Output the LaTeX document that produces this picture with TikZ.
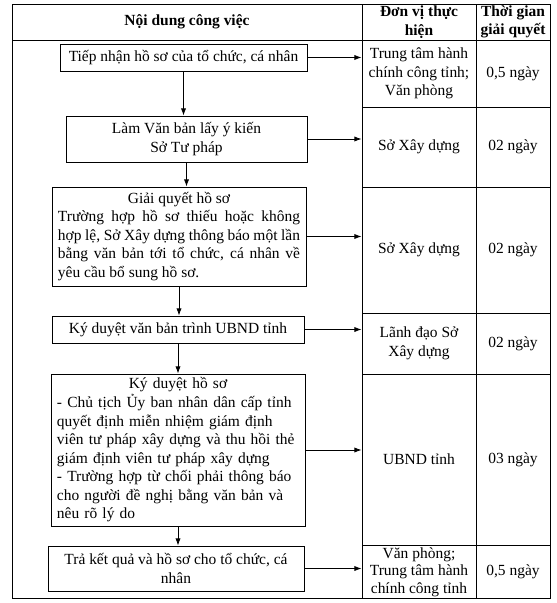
\documentclass[tikz,border=0pt]{standalone}
\usepackage{fontspec}
\setmainfont{Liberation Serif}
\usetikzlibrary{arrows.meta}
\setlength{\lineskiplimit}{-10pt}

\begin{document}
\begin{tikzpicture}[x=0.025cm, y=-0.025cm,
    every node/.style={font=\fontsize{11}{13.2}\selectfont},
    cell/.style={draw, line width=0.6pt, inner sep=0pt, align=center},
    head/.style={cell, minimum height=0.9cm, font=\fontsize{11}{13.2}\selectfont\bfseries},
    box/.style={draw, line width=0.6pt, inner xsep=0.15cm, inner ysep=0pt, align=center},
    flow/.style={line width=0.6pt, -{Latex[length=1.8mm, width=1.3mm]}}]
    \useasboundingbox (0,0) rectangle (557,603);

    \node[head, minimum width=8.75cm] (h1) at (187,22) {Nội dung công việc};
    \node[head, minimum width=2.85cm] (h2) at (419,22) {Đơn vị thực\\hiện};
    \node[head, minimum width=1.85cm] (h3) at (513,22) {Thời gian\\giải quyết};
    \node[cell, minimum width=8.75cm, minimum height=13.95cm] (work) at (187,319) {};

    \node[cell, minimum width=2.85cm, minimum height=1.675cm] (u1) at (419,73.5) {Trung tâm hành\\chính công tỉnh;\\Văn phòng};
    \node[cell, minimum width=1.85cm, minimum height=1.675cm] (t1) at (513,73.5) {0,5 ngày};
    \node[cell, minimum width=2.85cm, minimum height=2cm] (u2) at (419,147) {Sở Xây dựng};
    \node[cell, minimum width=1.85cm, minimum height=2cm] (t2) at (513,147) {02 ngày};
    \node[cell, minimum width=2.85cm, minimum height=3.15cm] (u3) at (419,250) {Sở Xây dựng};
    \node[cell, minimum width=1.85cm, minimum height=3.15cm] (t3) at (513,250) {02 ngày};
    \node[cell, minimum width=2.85cm, minimum height=1.525cm] (u4) at (419,343.5) {Lãnh đạo Sở\\Xây dựng};
    \node[cell, minimum width=1.85cm, minimum height=1.525cm] (t4) at (513,343.5) {02 ngày};
    \node[cell, minimum width=2.85cm, minimum height=4.275cm] (u5) at (419,459.5) {UBND tỉnh};
    \node[cell, minimum width=1.85cm, minimum height=4.275cm] (t5) at (513,459.5) {03 ngày};
    \node[cell, minimum width=2.85cm, minimum height=1.325cm, font=\fontsize{11}{12.4}\selectfont] (u6) at (419,572) {Văn phòng;\\Trung tâm hành\\chính công tỉnh};
    \node[cell, minimum width=1.85cm, minimum height=1.325cm] (t6) at (513,571.5) {0,5 ngày};

    \node[box, minimum width=6.175cm, minimum height=0.675cm] (b1) at (183.5,57.5) {Tiếp nhận hồ sơ của tổ chức, cá nhân};
    \node[box, minimum width=6.025cm, minimum height=1.15cm] (b2) at (186.5,139) {Làm Văn bản lấy ý kiến\\Sở Tư pháp};
    \node[box, minimum width=6.35cm, minimum height=2.475cm, text width=6.05cm, align=justify] (b3) at (179,236.5)
        {{\centering Giải quyết hồ sơ\par}Trường hợp hồ sơ thiếu hoặc không\linebreak hợp lệ, Sở Xây dựng thông báo một lần\linebreak bằng văn bản tới tổ chức, cá nhân về\linebreak yêu cầu bổ sung hồ sơ.};
    \node[box, minimum width=6.3cm, minimum height=0.675cm] (b4) at (178,329.5) {Ký duyệt văn bản trình UBND tỉnh};
    \node[box, minimum width=6.35cm, minimum height=3.8cm, text width=6.05cm, align=left] (b5) at (178,450)
        {{\centering Ký duyệt hồ sơ\par}- Chủ tịch Ủy ban nhân dân cấp tỉnh\\quyết định miễn nhiệm giám định\\viên tư pháp xây dựng và thu hồi thẻ\\giám định viên tư pháp xây dựng\\- Trường hợp từ chối phải thông báo\\cho người đề nghị bằng văn bản và\\nêu rõ lý do};
    \node[box, minimum width=6.4cm, minimum height=1.125cm] (b6) at (176,568.5) {Trả kết quả và hồ sơ cho tổ chức, cá\\nhân};

    \draw[flow] (b1.south) -- (b1.south |- b2.north);
    \draw[flow] (b2.south) -- (b2.south |- b3.north);
    \draw[flow] (b3.south) -- (b3.south |- b4.north);
    \draw[flow] (b4.south) -- (b4.south |- b5.north);
    \draw[flow] (b5.south) -- (b5.south |- b6.north);

    \draw[flow] (b1.east) -- (b1.east -| u1.west);
    \draw[flow] (b2.east) -- (b2.east -| u2.west);
    \draw[flow] (b3.east) -- (b3.east -| u3.west);
    \draw[flow] (b4.east) -- (b4.east -| u4.west);
    \draw[flow] (b5.east) -- (b5.east -| u5.west);
    \draw[flow] (b6.east) -- (b6.east -| u6.west);
\end{tikzpicture}
\end{document}
